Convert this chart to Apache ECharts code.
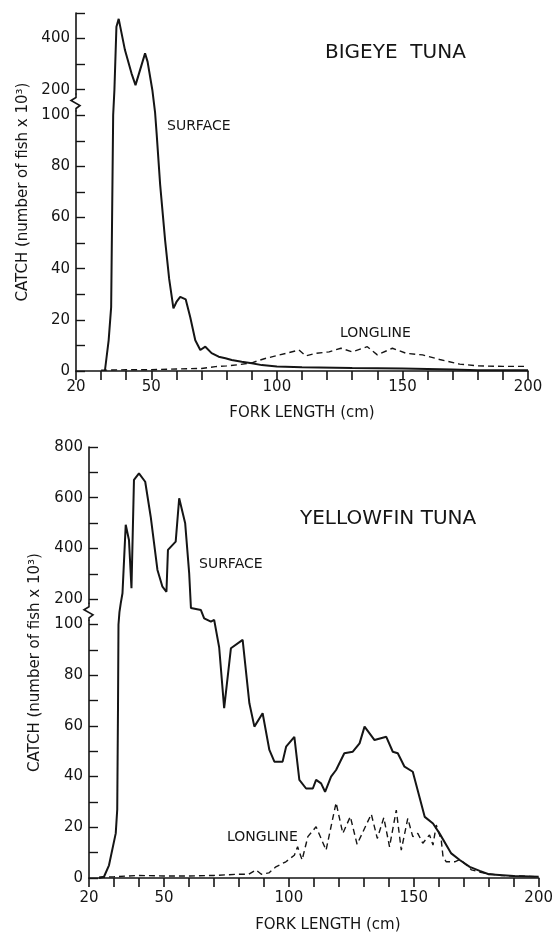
<!DOCTYPE html>
<html>
<head>
<meta charset="utf-8">
<title>Bigeye and yellowfin tuna catch by fork length</title>
<script src="https://cdn.jsdelivr.net/npm/echarts@6.0.0/dist/echarts.min.js"></script>
<style>
html, body { margin: 0; padding: 0; background: #fff; }
#chart { width: 556px; height: 936px; }
</style>
</head>
<body>
<div id="chart"></div>
<script>
// catch in thousands of fish
var bigeyeSurfaceLen = [31.5, 33, 34, 34.8, 35.3, 36.1, 37, 39.5, 42.1, 43.7, 47.5, 48.5, 50.4, 51.5, 52.1, 53.5, 55.5, 57.1, 58.8, 60, 61.5, 63.7, 65.5, 67.5, 69.5, 71.5, 74, 76.8, 79.5, 82, 86, 90, 94, 100, 110, 130, 150, 170, 180, 200];
var bigeyeSurfaceCatch = [0, 12, 25, 100, 200, 446, 477, 355, 264, 218, 342, 310, 199, 110, 93, 73, 51, 36, 24.5, 27, 29, 28, 21, 12, 8.2, 9.5, 7, 5.6, 5, 4.3, 3.6, 3, 2.3, 1.8, 1.5, 1.2, 1, 0.6, 0.3, 0.3];

var bigeyeLonglineLen = [30, 40, 50, 60, 70, 75.5, 80, 85, 90, 95, 99.5, 104, 108.8, 111.5, 115.5, 120.8, 125.5, 130, 136, 140, 146, 151.5, 158, 164.8, 172.8, 180, 190, 200];
var bigeyeLonglineCatch = [0.3, 0.5, 0.5, 0.8, 1, 1.7, 2, 2.5, 3.2, 4.8, 5.9, 7, 8.2, 5.9, 6.9, 7.5, 8.9, 7.5, 9.5, 6.3, 8.9, 6.9, 6.3, 4.5, 2.7, 2, 1.8, 1.8];

var yellowfinSurfaceLen = [24, 26, 28, 30.7, 31.3, 31.6, 31.8, 32.2, 32.7, 33.4, 34.7, 36, 37, 38, 40, 42.5, 44.7, 47.4, 49.4, 51, 51.6, 54.7, 56.1, 58.5, 60.1, 60.8, 64.8, 66.1, 68.8, 70.1, 72.1, 74.1, 76.8, 81.5, 84.2, 86.2, 89.5, 92.2, 94.2, 97.5, 98.9, 102.2, 104.2, 106.9, 109.6, 110.9, 112.9, 114.5, 116.9, 118.9, 122.2, 125.6, 128.3, 130.3, 134.3, 139, 141.6, 143.6, 146.3, 149.6, 154.4, 157.7, 160.3, 165, 168.4, 172.4, 176.4, 180, 190, 200];
var yellowfinSurfaceCatch = [0, 0.5, 5, 17.6, 27, 66, 100, 150, 183, 223, 493, 433, 243, 670, 696, 663, 525, 315, 249, 229, 394, 427, 598, 499, 302, 165, 157, 124, 111, 118, 91, 67, 90.6, 93.9, 68.9, 59.7, 65, 50.5, 45.9, 45.9, 51.8, 55.7, 38.7, 35.3, 35.3, 38.7, 37.3, 34, 40, 42.6, 49.2, 49.8, 53.1, 59.7, 54.4, 55.7, 49.8, 49.2, 43.9, 41.9, 24.1, 21.5, 17.6, 9.7, 7.1, 4.4, 2.8, 1.5, 0.8, 0.5];

var yellowfinLonglineLen = [24, 30, 40, 50, 60, 70, 80, 84, 86.8, 89, 92, 94.8, 98.8, 102.2, 103.5, 105.3, 107.6, 110.9, 114.9, 118.9, 121.6, 124.6, 127.3, 133, 135.4, 138, 140.3, 143, 145, 147.6, 149.6, 151.6, 153.6, 156.3, 157.7, 159, 161, 161.7, 163, 166.4, 168.4, 171.1, 173.1, 177.7, 185, 200];
var yellowfinLonglineCatch = [0.3, 0.5, 1, 0.8, 0.8, 1, 1.5, 1.5, 3.2, 1.5, 2, 4.4, 6.4, 9, 12.3, 7.1, 16.3, 20.2, 11, 29.7, 17.6, 24.2, 13.3, 25.2, 15.6, 23.8, 12.3, 26.8, 11, 23.5, 16.3, 17.6, 13.7, 17, 13, 20.9, 15, 8.4, 6.4, 6.4, 7.3, 5.1, 3.2, 2, 1, 0.5];

// tick labels
var lengthLabels = [20, 50, 100, 150, 200];
var bigeyeCatchLabels = [0, 20, 40, 60, 80, 100, 200, 400];
var yellowfinCatchLabels = [0, 20, 40, 60, 80, 100, 200, 400, 600, 800];

// broken catch axis: 0-100 linear, 100-200 squeezed into the break, above 200 at 1/10 scale
function toAxis(v) {
  if (v <= 100) return v;
  if (v <= 200) return 100 + (v - 100) / 10;
  return 110 + (v - 200) / 10;
}
function fromAxis(d) {
  if (d <= 100) return d;
  if (d <= 110) return 100 + (d - 100) * 10;
  return 200 + (d - 110) * 10;
}
function pairs(xs, ys) {
  return xs.map(function (x, i) { return [x, toAxis(ys[i])]; });
}

var ink = '#151515';
var font = 'DejaVu Sans';

function lengthAxis(idx, labelMargin, nameGap, namePad) {
  return {
    type: 'value', gridIndex: idx, min: 20, max: 200, interval: 10,
    name: 'FORK LENGTH (cm)', nameLocation: 'middle', nameGap: nameGap,
    nameTextStyle: { color: ink, fontFamily: font, fontSize: 15, padding: namePad },
    axisLine: { lineStyle: { color: ink, width: 1.6 } },
    axisTick: { inside: false, length: 9, lineStyle: { color: ink, width: 1.6 } },
    axisLabel: {
      color: ink, fontFamily: font, fontSize: 15, margin: labelMargin,
      formatter: function (v) { return lengthLabels.indexOf(v) >= 0 ? String(v) : ''; }
    },
    splitLine: { show: false }
  };
}

function catchAxis(idx, max, labels, nameGap) {
  return {
    type: 'value', gridIndex: idx, min: 0, max: max, interval: 10,
    name: 'CATCH (number of fish x 10³)', nameLocation: 'middle', nameRotate: 90, nameGap: nameGap,
    nameTextStyle: { color: ink, fontFamily: font, fontSize: 15 },
    axisLine: { lineStyle: { color: ink, width: 1.6 } },
    axisTick: { inside: true, length: 9, lineStyle: { color: ink, width: 1.4 } },
    axisLabel: {
      color: ink, fontFamily: font, fontSize: 15, margin: 6,
      formatter: function (d) {
        if (d > 100 && d < 110) return '';
        var v = Math.round(fromAxis(d));
        return labels.indexOf(v) >= 0 ? String(v) : '';
      }
    },
    splitLine: { show: false }
  };
}

function curve(name, idx, data, dashed) {
  return {
    name: name, type: 'line', xAxisIndex: idx, yAxisIndex: idx,
    data: data, symbol: 'none', smooth: false, silent: true,
    lineStyle: dashed ? { color: ink, width: 1.4, type: [6, 4] } : { color: ink, width: 2 }
  };
}

function label(id, text, x, y, size) {
  return {
    id: id, type: 'text', left: x, top: y,
    style: { text: text, fill: ink, font: size + 'px "' + font + '"' }
  };
}

var chart = echarts.init(document.getElementById('chart'));

chart.setOption({
  backgroundColor: '#fff',
  animation: false,
  grid: [
    { left: 76, right: 28, top: 13, height: 358 },
    { left: 89, right: 17, top: 447, height: 431 }
  ],
  xAxis: [lengthAxis(0, 9, 35, [0, 0, 0, 0]), lengthAxis(1, 13, 40, [0, 0, 0, 28])],
  yAxis: [catchAxis(0, 140, bigeyeCatchLabels, 43), catchAxis(1, 170, yellowfinCatchLabels, 46)],
  series: [
    curve('Bigeye surface', 0, pairs(bigeyeSurfaceLen, bigeyeSurfaceCatch), false),
    curve('Bigeye longline', 0, pairs(bigeyeLonglineLen, bigeyeLonglineCatch), true),
    curve('Yellowfin surface', 1, pairs(yellowfinSurfaceLen, yellowfinSurfaceCatch), false),
    curve('Yellowfin longline', 1, pairs(yellowfinLonglineLen, yellowfinLonglineCatch), true)
  ]
});

var graphics = [
  label('t1', 'BIGEYE  TUNA', 325, 43, 20),
  label('s1', 'SURFACE', 167, 119, 14),
  label('l1', 'LONGLINE', 340, 326, 14),
  label('t2', 'YELLOWFIN TUNA', 300, 509, 20),
  label('s2', 'SURFACE', 199, 557, 14),
  label('l2', 'LONGLINE', 227, 830, 14)
];

// zigzag marking the break on each catch axis
[0, 1].forEach(function (i) {
  var p = chart.convertToPixel({ xAxisIndex: i, yAxisIndex: i }, [20, 105]);
  graphics.push({
    id: 'gap' + i, type: 'rect', z: 100,
    shape: { x: p[0] - 3, y: p[1] - 8, width: 6, height: 16 },
    style: { fill: '#fff' }
  });
  graphics.push({
    id: 'zig' + i, type: 'polyline', z: 101,
    shape: { points: [[p[0], p[1] - 9], [p[0], p[1] - 5], [p[0] - 5, p[1] - 2], [p[0] + 4, p[1] + 3], [p[0], p[1] + 6], [p[0], p[1] + 9]] },
    style: { stroke: ink, lineWidth: 1.6, fill: null }
  });
});
chart.setOption({ graphic: graphics });
</script>
</body>
</html>
